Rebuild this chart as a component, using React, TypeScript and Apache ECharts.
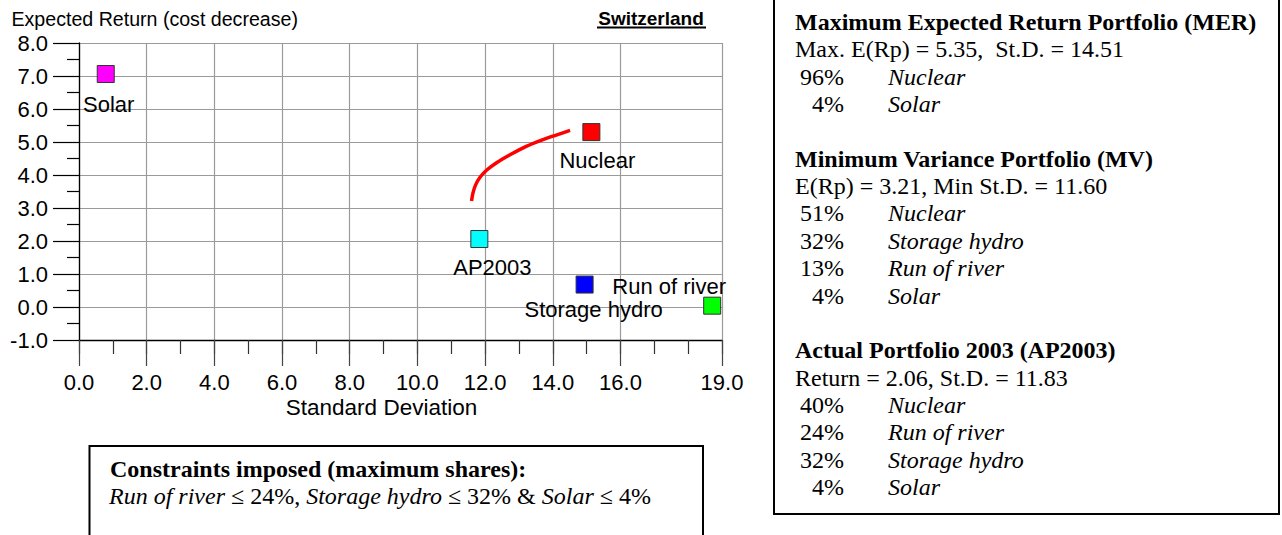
import React, { useEffect, useRef } from "react";
import * as echarts from "echarts";

// ---------- data ----------
const xMajorTicks = [0, 2, 4, 6, 8, 10, 12, 14, 16, 19];
const yMin = -1;
const yMax = 8;

const pointNames = ["Solar", "Nuclear", "AP2003", "Storage hydro", "Run of river"];
const pointSD = [0.79, 15.14, 11.83, 14.94, 18.71];
const pointReturn = [7.06, 5.3, 2.06, 0.68, 0.04];

const frontierSD = [11.6, 11.64, 11.72, 11.85, 12.05, 12.35, 12.75, 13.2, 13.65, 14.1, 14.51];
const frontierReturn = [3.21, 3.45, 3.7, 3.93, 4.15, 4.38, 4.62, 4.86, 5.05, 5.21, 5.35];

const merHeader = "Maximum Expected Return Portfolio (MER)";
const merStats = "Max. E(Rp) = 5.35,  St.D. = 14.51";
const merShares = ["96%", "4%"];
const merNames = ["Nuclear", "Solar"];

const mvHeader = "Minimum Variance Portfolio (MV)";
const mvStats = "E(Rp) = 3.21, Min St.D. = 11.60";
const mvShares = ["51%", "32%", "13%", "4%"];
const mvNames = ["Nuclear", "Storage hydro", "Run of river", "Solar"];

const apHeader = "Actual Portfolio 2003 (AP2003)";
const apStats = "Return = 2.06, St.D. = 11.83";
const apShares = ["40%", "24%", "32%", "4%"];
const apNames = ["Nuclear", "Run of river", "Storage hydro", "Solar"];

const constraintsHeader = "Constraints imposed (maximum shares):";
const constraintsText = "{i|Run of river} ≤ 24%, {i|Storage hydro} ≤ 32% & {i|Solar} ≤ 4%";

const yTitle = "Expected Return (cost decrease)";
const xTitle = "Standard Deviation";
const countryTitle = "Switzerland";

// ---------- styles ----------
const SANS = '"Liberation Sans", Arial, Helvetica, sans-serif';
const SERIF = '"Liberation Serif", "Times New Roman", Times, serif';
const pointColors = ["#ff00ff", "#ff0000", "#00ffff", "#0000ff", "#00ff00"];
const labelOffsets = [
  [3, 30],
  [6, 28],
  [13, 28],
  [9, 25],
  [-43, -19],
];

function txt(x: number, y: number, text: string, opts: any = {}) {
  const align = opts.align || "left";
  return {
    type: "text",
    x,
    y,
    silent: true,
    style: {
      text,
      fill: "#000",
      fontSize: opts.fontSize || 24,
      fontFamily: opts.fontFamily || SERIF,
      fontWeight: opts.fontWeight || "normal",
      fontStyle: opts.fontStyle || "normal",
      align,
      textAlign: align,
      verticalAlign: "middle",
      textVerticalAlign: "middle",
      rich: opts.rich,
    },
  };
}

function buildBoxTexts() {
  const els: any[] = [];
  const x0 = 795;
  const pctRight = 844;
  const nameX = 888;
  const y0 = 22;
  const dy = 27.35;
  let row = 0;
  const section = (header: string, stats: string, shares: string[], names: string[]) => {
    els.push(txt(x0, y0 + dy * row, header, { fontWeight: "bold" }));
    row++;
    els.push(txt(x0, y0 + dy * row, stats));
    row++;
    shares.forEach((s, i) => {
      els.push(txt(pctRight, y0 + dy * row, s, { align: "right" }));
      els.push(txt(nameX, y0 + dy * row, names[i], { fontStyle: "italic" }));
      row++;
    });
    row++;
  };
  section(merHeader, merStats, merShares, merNames);
  section(mvHeader, mvStats, mvShares, mvNames);
  section(apHeader, apStats, apShares, apNames);
  return els;
}

export default function App() {
  const ref = useRef<HTMLDivElement>(null);

  useEffect(() => {
    if (!ref.current) return;
    const chart = echarts.init(ref.current, null, { renderer: "svg" });

    const gridColor = "#9a9a9a";

    const option: any = {
      animation: false,
      backgroundColor: "#ffffff",
      grid: {
        left: 79,
        top: 43,
        width: 643,
        height: 297,
        containLabel: false,
        outerBoundsMode: "none",
      },
      xAxis: [
        {
          type: "value",
          min: 0,
          max: 19,
          interval: 1,
          position: "bottom",
          axisLine: { show: true, onZero: false, lineStyle: { color: "#000", width: 1.3 } },
          axisTick: { show: true, length: 14, lineStyle: { color: "#333", width: 1.2 } },
          axisLabel: { show: false },
          splitLine: { show: false },
        },
        {
          type: "value",
          min: 0,
          max: 19,
          position: "bottom",
          axisLine: { show: false, onZero: false },
          axisTick: {
            show: true,
            length: 26,
            customValues: xMajorTicks,
            lineStyle: { color: "#444", width: 1.2 },
          },
          axisLabel: {
            show: true,
            customValues: xMajorTicks,
            formatter: (v: number) => Number(v).toFixed(1),
            margin: 31,
            fontSize: 22,
            color: "#000",
            fontFamily: SANS,
          },
          splitLine: { show: true, lineStyle: { color: gridColor, width: 1.2 } },
        },
      ],
      yAxis: {
        type: "value",
        min: yMin,
        max: yMax,
        interval: 1,
        axisLine: { show: true, onZero: false, lineStyle: { color: "#000", width: 1.3 } },
        axisTick: { show: true, length: 26, lineStyle: { color: "#000", width: 1.2 } },
        minorTick: { show: true, splitNumber: 2, length: 12, lineStyle: { color: "#000", width: 1.2 } },
        minorSplitLine: { show: false },
        axisLabel: {
          formatter: (v: number) => Number(v).toFixed(1),
          margin: 31,
          fontSize: 22,
          color: "#000",
          fontFamily: SANS,
        },
        splitLine: { show: true, lineStyle: { color: gridColor, width: 1.2 } },
      },
      series: [
        {
          type: "line",
          name: "frontier",
          xAxisIndex: 0,
          yAxisIndex: 0,
          data: frontierSD.map((x, i) => [x, frontierReturn[i]]),
          smooth: 0.3,
          showSymbol: false,
          symbol: "none",
          lineStyle: { color: "#ff0000", width: 3.5 },
          z: 3,
          silent: true,
        },
        {
          type: "scatter",
          name: "technologies",
          xAxisIndex: 0,
          yAxisIndex: 0,
          symbol: "rect",
          symbolSize: 17,
          z: 4,
          itemStyle: { borderColor: "#333", borderWidth: 1, opacity: 1 },
          label: {
            show: true,
            position: "inside",
            formatter: "{b}",
            align: "center",
            verticalAlign: "middle",
            fontSize: 22,
            color: "#000",
            fontFamily: SANS,
          },
          data: pointNames.map((n, i) => ({
            name: n,
            value: [pointSD[i], pointReturn[i]],
            itemStyle: { color: pointColors[i], opacity: 1 },
            label: { offset: labelOffsets[i] },
          })),
        },
      ],
      graphic: {
        elements: [
          txt(11.5, 18.5, yTitle, { fontFamily: SANS, fontSize: 19.6 }),
          txt(651, 18, countryTitle, { fontFamily: SANS, fontSize: 19, fontWeight: "bold", align: "center" }),
          {
            type: "line",
            silent: true,
            shape: { x1: 597, y1: 27.5, x2: 706, y2: 27.5 },
            style: { stroke: "#000", lineWidth: 2 },
          },
          txt(381.5, 407, xTitle, { fontFamily: SANS, fontSize: 22.5, align: "center" }),
          {
            type: "rect",
            silent: true,
            shape: { x: 774, y: -10, width: 505, height: 524 },
            style: { fill: "none", stroke: "#000", lineWidth: 2 },
          },
          ...buildBoxTexts(),
          {
            type: "rect",
            silent: true,
            shape: { x: 89.5, y: 446, width: 613.5, height: 120 },
            style: { fill: "none", stroke: "#000", lineWidth: 2 },
          },
          txt(110, 469, constraintsHeader, { fontWeight: "bold" }),
          txt(109, 496, constraintsText, {
            rich: { i: { fontStyle: "italic", fontSize: 24, fontFamily: SERIF, fill: "#000" } },
          }),
        ],
      },
    };

    chart.setOption(option);
    return () => chart.dispose();
  }, []);

  return (
    <div
      ref={ref}
      style={{ position: "fixed", left: 0, top: 0, width: 1282, height: 535, background: "#fff" }}
    />
  );
}
